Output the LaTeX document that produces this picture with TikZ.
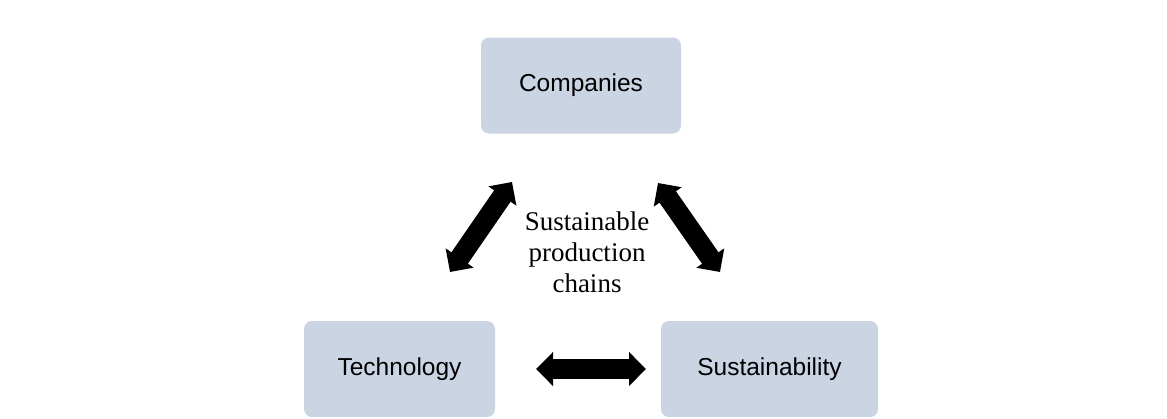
\documentclass[tikz,border=0pt]{standalone}
\usepackage{fontspec}
\setmainfont{Liberation Serif}
\newfontfamily\boxfont{Liberation Sans}
\usetikzlibrary{arrows.meta}
\definecolor{boxblue}{RGB}{203,212,226}

\begin{document}
\begin{tikzpicture}[x=1pt, y=-1pt,
  block/.style={fill=boxblue, rounded corners=8pt, minimum height=96pt,
    font=\boxfont\fontsize{24.5}{29}\selectfont},
  link/.style={line width=20pt,
    {Triangle[length=17pt,width=33pt]}-{Triangle[length=17pt,width=33pt]}}]
\useasboundingbox (0,0) rectangle (1167,418);

\node[block, minimum width=200pt] (comp) at (581,85.5) {Companies};
\node[block, minimum width=191pt] (tech) at (399.5,369) {Technology};
\node[block, minimum width=217pt] (sust) at (769.5,369) {Sustainability};

\node[align=center, font=\fontsize{27}{31}\selectfont] (chains) at (587,252)
  {Sustainable\\production\\chains};

% arrow ends
\foreach \pt/\x/\y in {tc/450/272, ct/512/182, cs/658/183, sc/720/272,
                       ts/536/369, st/646/369}
  \coordinate (\pt) at (\x,\y);

\draw[link] (tc) -- (ct);
\draw[link] (cs) -- (sc);
\draw[link] (ts) -- (st);
\end{tikzpicture}
\end{document}
